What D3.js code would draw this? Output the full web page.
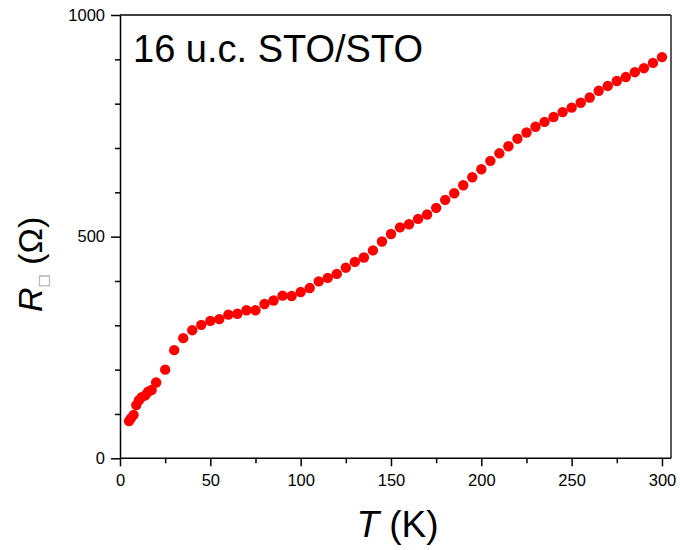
<!DOCTYPE html>
<html><head><meta charset="utf-8">
<script src="https://cdn.jsdelivr.net/npm/d3@7"></script>
<style>body{margin:0;background:#fff;} svg{display:block;}</style>
</head><body>
<svg id="c" width="680" height="550"></svg>
<script>
const temps = [5,6,7.5,9,10.5,12,14,15.5,17.5,20,25,30,35,40,45,50,55,60,65,70,75,80,85,90,95,100,105,110,115,120,125,130,135,140,145,150,155,160,165,170,175,180,185,190,195,200,205,210,215,220,225,230,235,240,245,250,255,260,265,270,275,280,285,290,295,300];
const resist = [84,90,98,120,131,138,142,150,154,171,200,244,271,289,301,310,314,324,326,334,334,348,356,367,366,375,384,399,407,416,430,443,453,469,489,506,521,528,540,550,565,583,598,616,634,652,671,688,704,721,735,748,759,770,781,791,802,814,829,840,851,860,871,880,892,905];
const xMajor = [0,50,100,150,200,250,300];
const xMinor = [25,75,125,175,225,275];
const yMajor = [0,500,1000];
const yMinor = [100,200,300,400,600,700,800,900];
const titleText = "16 u.c. STO/STO";

const svg = d3.select("#c");
const L = 120, R = 671, T = 15, B = 458.3;
const x = d3.scaleLinear().domain([0,305]).range([L,R]);
const y = d3.scaleLinear().domain([0,1000]).range([B,T]);
const font = "'Liberation Sans', Arial, sans-serif";
const fmt = d3.format("d");

// frame top/right
svg.append("line").attr("x1",L).attr("x2",R).attr("y1",T).attr("y2",T).attr("stroke","#000").attr("stroke-width",1.5);
svg.append("line").attr("x1",R).attr("x2",R).attr("y1",T).attr("y2",B).attr("stroke","#222").attr("stroke-width",1.5);

// x axis
const gx = svg.append("g").attr("transform",`translate(0,${B})`);
gx.call(d3.axisBottom(x).tickValues(xMajor).tickFormat(fmt).tickSize(8).tickPadding(8).tickSizeOuter(0));
gx.append("g").call(d3.axisBottom(x).tickValues(xMinor).tickSize(5).tickFormat("").tickSizeOuter(0)).select(".domain").remove();
gx.select(".domain").attr("stroke-width",1.5).attr("d",`M${L},0H${R}`);
gx.selectAll("text").attr("font-family",font).attr("font-size",16.5).attr("fill","#000");
gx.selectAll("line").attr("stroke-width",1.5);

// y axis
const gy = svg.append("g").attr("transform",`translate(${L},0)`);
gy.call(d3.axisLeft(y).tickValues(yMajor).tickFormat(fmt).tickSize(9).tickPadding(6).tickSizeOuter(0));
gy.append("g").call(d3.axisLeft(y).tickValues(yMinor).tickSize(5).tickFormat("").tickSizeOuter(0)).select(".domain").remove();
gy.select(".domain").attr("stroke-width",1.5);
gy.selectAll("text").attr("font-family",font).attr("font-size",16.5).attr("fill","#000");
gy.selectAll("line").attr("stroke-width",1.5);

// points
svg.append("g").selectAll("circle").data(temps.map((t,i)=>[t,resist[i]])).join("circle")
  .attr("cx",d=>x(d[0])).attr("cy",d=>y(d[1])).attr("r",5.2).attr("fill","#ff0000");

// annotation
svg.append("text").attr("x",133).attr("y",62).attr("font-family",font).attr("font-size",38).text(titleText);

// x title
const xt = svg.append("text").attr("x",(L+R)/2+2).attr("y",537).attr("text-anchor","middle")
  .attr("font-family",font).attr("font-size",37);
xt.append("tspan").attr("font-style","italic").text("T");
xt.append("tspan").text(" (K)");

// y title
const yt = svg.append("text").attr("transform","translate(42,312) rotate(-90)")
  .attr("font-family",font).attr("font-size",34);
yt.append("tspan").attr("font-style","italic").text("R");
yt.append("tspan").attr("font-family","'DejaVu Sans', sans-serif").attr("font-size",14).attr("fill","#999").attr("dy",6).text("\u25A1");
yt.append("tspan").attr("dy",-6).text(" (\u03A9)");
</script>
</body></html>
